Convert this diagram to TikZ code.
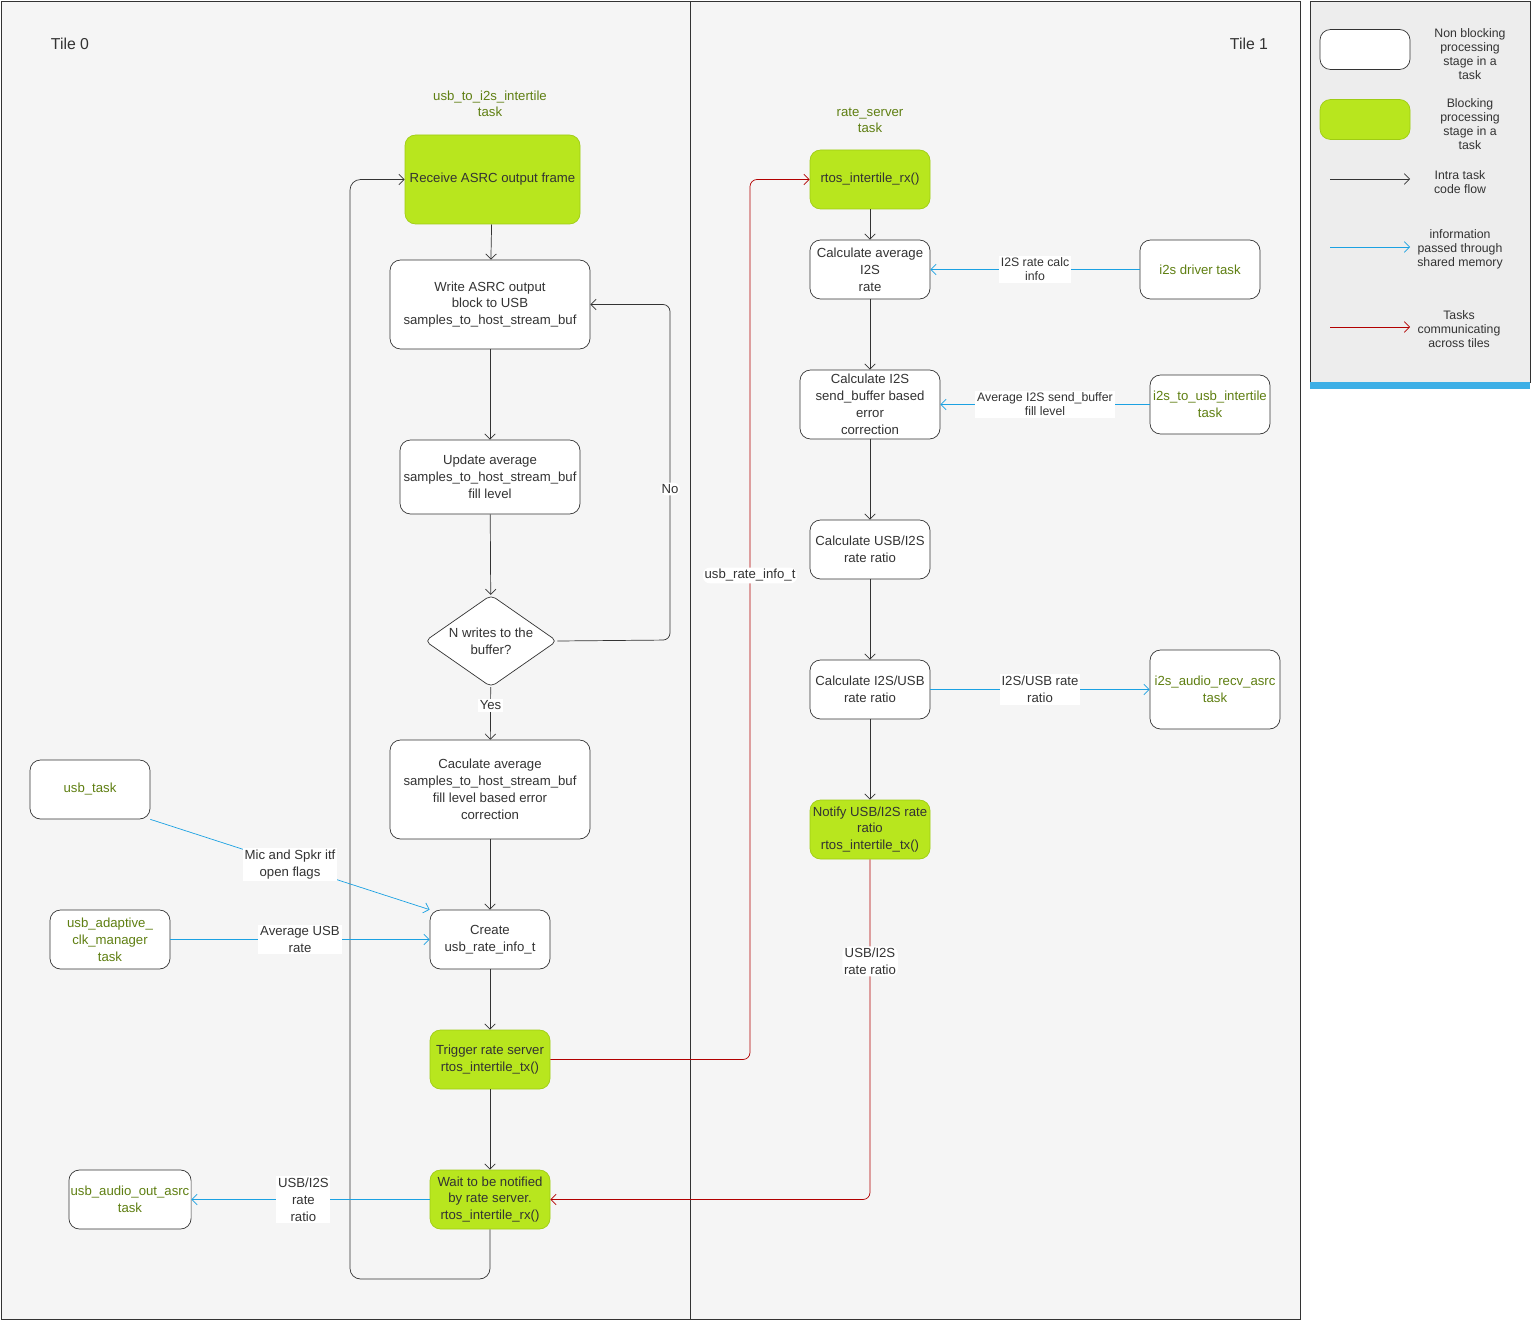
\documentclass[tikz,border=0pt]{standalone}
\usepackage{fontspec}
\setmainfont{Liberation Sans}
\usetikzlibrary{positioning}
\usetikzlibrary{shapes.geometric}
\usetikzlibrary{arrows.meta}
\definecolor{lime}{HTML}{B8E61E}
\definecolor{limeedge}{HTML}{9FCC14}
\definecolor{olive}{HTML}{5F7F12}
\definecolor{memblue}{HTML}{1BA1E2}
\definecolor{tilered}{HTML}{B20000}
\definecolor{flowgray}{HTML}{333333}
\tikzset{
  wh/.style 2 args={minimum width=#1*0.02cm, minimum height=#2*0.02cm},
  stage/.style={draw=flowgray, fill=white, rounded corners=6pt, align=center, inner sep=1pt,
    font=\fontsize{7.5}{9.6}\selectfont, text=flowgray},
  block/.style={stage, fill=lime, draw=limeedge},
  task/.style={stage, text=olive},
  flow/.style={draw=flowgray, -{Straight Barb[length=3pt]}},
  mem/.style={draw=memblue, -{Straight Barb[length=3pt]}},
  tile/.style={draw=tilered, -{Straight Barb[length=3pt]}, rounded corners=4pt},
  lbl/.style={fill=white, inner sep=1pt, align=center, font=\fontsize{7.5}{9.6}\selectfont, text=flowgray},
  small/.style={align=center, font=\fontsize{7}{8}\selectfont, text=flowgray},
}
\begin{document}
\begin{tikzpicture}[x=0.02cm, y=-0.02cm]
    \useasboundingbox (0,0) rectangle (1531,1321);
    \draw [draw=flowgray, fill=gray!8] (1,1) rectangle (690,1319);
    \draw [draw=flowgray, fill=gray!8] (690,1) rectangle (1300,1319);
    \draw [draw=flowgray, fill=gray!14] (1310,1) rectangle (1530,382);
    \fill [memblue!85] (1310,382) rectangle (1530,389);
    \node [font=\fontsize{9}{11}\selectfont, text=flowgray] (t0) at (70,44) {Tile 0};
    \node [font=\fontsize{9}{11}\selectfont, text=flowgray] (t1) at (1249,44) {Tile 1};
    \node [small, text=olive, font=\fontsize{7.5}{9}\selectfont] (title0) at (490,104) {usb\_to\_i2s\_intertile\\task};
    \node [small, text=olive, font=\fontsize{7.5}{9}\selectfont] (title1) at (870,120) {rate\_server\\task};

    % tile 0
    \node [block, wh={175}{89}] (recv) at (492.5,179.5) {Receive ASRC output frame};
    \node [stage, wh={200}{89}] (write) at (490,304.5) {Write ASRC output\\block to USB\\samples\_to\_host\_stream\_buf};
    \node [stage, wh={180}{74}] (update) at (490,477) {Update average\\samples\_to\_host\_stream\_buf\\fill level};
    \node [diamond, draw=flowgray, fill=white, rounded corners=3pt, aspect=1.43, inner sep=0pt, wh={132}{92},
           align=center, font=\fontsize{7.5}{9.6}\selectfont, text=flowgray] (nwrites) at (491,641) {N writes to the\\buffer?};
    \node [stage, wh={200}{99}] (corr) at (490,789.5) {Caculate average\\samples\_to\_host\_stream\_buf\\fill level based error\\correction};
    \node [stage, wh={120}{59}] (create) at (490,939.5) {Create\\usb\_rate\_info\_t};
    \node [block, wh={120}{59}] (trigger) at (490,1059.5) {Trigger rate server\\rtos\_intertile\_tx()};
    \node [block, wh={120}{59}] (wait) at (490,1199.5) {Wait to be notified\\by rate server.\\rtos\_intertile\_rx()};
    \node [task, wh={120}{59}] (usbtask) at (90,789.5) {usb\_task};
    \node [task, wh={120}{59}] (adaptive) at (110,939.5) {usb\_adaptive\_\\clk\_manager\\task};
    \node [task, wh={120}{59}] (outasrc) at (130,1199.5) {usb\_audio\_out\_asrc\\task};

    % tile 1
    \node [block, wh={120}{59}] (rx) at (870,179.5) {rtos\_intertile\_rx()};
    \node [stage, wh={120}{59}] (avg) at (870,269.5) {Calculate average\\I2S\\rate};
    \node [stage, wh={140}{69}] (err) at (870,404.5) {Calculate I2S\\send\_buffer based\\error\\correction};
    \node [stage, wh={120}{59}] (ratio1) at (870,549.5) {Calculate USB/I2S\\rate ratio};
    \node [stage, wh={120}{59}] (ratio2) at (870,689.5) {Calculate I2S/USB\\rate ratio};
    \node [block, wh={120}{59}] (notify) at (870,829.5) {Notify USB/I2S rate\\ratio\\rtos\_intertile\_tx()};
    \node [task, wh={120}{59}] (i2sdrv) at (1200,269.5) {i2s driver task};
    \node [task, wh={120}{59}] (i2susb) at (1210,404.5) {i2s\_to\_usb\_intertile\\task};
    \node [task, wh={130}{79}] (recvasrc) at (1215,689.5) {i2s\_audio\_recv\_asrc\\task};

    % intra task flow
    \draw [flow] (recv) -- (write);
    \draw [flow] (write) -- (update);
    \draw [flow] (update) -- (nwrites);
    \draw [flow] (nwrites) -- node [lbl, pos=0.35] {Yes} (corr);
    \draw [flow, rounded corners=4pt] (nwrites.east) -- (670,640) -- node [lbl, pos=0.45] {No} (670,304.5) -- (write.east);
    \draw [flow] (corr) -- (create);
    \draw [flow] (create) -- (trigger);
    \draw [flow] (trigger) -- (wait);
    \draw [flow, rounded corners=6pt] (wait.south) -- (490,1279) -- (350,1279) -- (350,179.5) -- (recv.west);
    \draw [flow] (rx) -- (avg);
    \draw [flow] (avg) -- (err);
    \draw [flow] (err) -- (ratio1);
    \draw [flow] (ratio1) -- (ratio2);
    \draw [flow] (ratio2) -- (notify);

    % shared memory
    \draw [mem] (usbtask.south east) -- node [lbl, pos=0.5] {Mic and Spkr itf\\open flags} (create.north west);
    \draw [mem] (adaptive) -- node [lbl, pos=0.5] {Average USB\\rate} (create);
    \draw [mem] (wait) -- node [lbl, pos=0.53] {USB/I2S\\rate\\ratio} (outasrc);
    \draw [mem] (i2sdrv) -- node [lbl, font=\fontsize{7}{8}\selectfont] {I2S rate calc\\info} (avg);
    \draw [mem] (i2susb) -- node [lbl, font=\fontsize{7}{8}\selectfont] {Average I2S send\_buffer\\fill level} (err);
    \draw [mem] (ratio2) -- node [lbl] {I2S/USB rate\\ratio} (recvasrc);

    % across tiles
    \draw [tile] (trigger.east) -- (750,1059.5) -- node [lbl, pos=0.55] {usb\_rate\_info\_t} (750,179.5) -- (rx.west);
    \draw [tile] (notify.south) -- node [lbl, pos=0.3] {USB/I2S\\rate ratio} (870,1199.5) -- (wait.east);

    % legend
    \node [stage, wh={90}{40}] (lgwhite) at (1365,49.5) {};
    \node [block, wh={90}{40}] (lggreen) at (1365,119.5) {};
    \node [small] (lgwhitetxt) at (1470,54) {Non blocking\\processing\\stage in a\\task};
    \node [small] (lggreentxt) at (1470,124) {Blocking\\processing\\stage in a\\task};
    \coordinate (lf1) at (1330,179);
    \coordinate (lf2) at (1410,179);
    \draw [flow] (lf1) -- (lf2);
    \node [small] (lgflow) at (1460,182) {Intra task\\code flow};
    \coordinate (lm1) at (1330,247);
    \coordinate (lm2) at (1410,247);
    \draw [mem] (lm1) -- (lm2);
    \node [small] (lgmem) at (1460,249) {information\\passed through\\shared memory};
    \coordinate (lt1) at (1330,327);
    \coordinate (lt2) at (1410,327);
    \draw [tile] (lt1) -- (lt2);
    \node [small] (lgtile) at (1459,329) {Tasks\\communicating\\across tiles};
\end{tikzpicture}
\end{document}
